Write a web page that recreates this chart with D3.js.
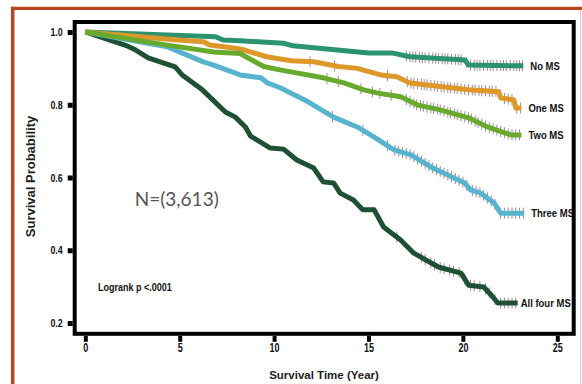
<!DOCTYPE html>
<html><head><meta charset="utf-8">
<script src="https://cdn.jsdelivr.net/npm/d3@7"></script>
<style>body{margin:0;background:#fff} svg{display:block}</style>
</head><body>
<svg id="c" width="582" height="384"></svg>
<script>
// ---------- data ----------
const seriesNames = ["No MS", "One MS", "Two MS", "Three MS", "All four MS"];
const noMS_t   = [0, 6.9, 7.3, 8.2, 10.5, 11.0, 15.0, 16.3, 17.2, 20.1, 20.3, 23.2];
const noMS_s   = [1.0, 0.987, 0.978, 0.976, 0.969, 0.962, 0.942, 0.942, 0.932, 0.923, 0.909, 0.907];
const oneMS_t  = [0, 4.9, 6.25, 6.6, 7.85, 8.4, 9.6, 10.9, 12.1, 13.4, 14.4, 15.65, 16.5, 17.2, 18.8, 20.3, 21.9, 22.0, 22.7, 22.8, 23.1];
const oneMS_s  = [1.0, 0.978, 0.973, 0.964, 0.956, 0.951, 0.932, 0.921, 0.918, 0.905, 0.900, 0.882, 0.877, 0.860, 0.850, 0.841, 0.836, 0.819, 0.813, 0.791, 0.791];
const twoMS_t  = [0, 4.35, 6.8, 8.2, 9.45, 10.3, 12.6, 13.7, 14.75, 15.5, 16.7, 17.6, 18.8, 20.3, 21.3, 22.55, 23.1];
const twoMS_s  = [1.0, 0.964, 0.945, 0.941, 0.905, 0.896, 0.874, 0.860, 0.841, 0.832, 0.822, 0.799, 0.786, 0.764, 0.739, 0.717, 0.717];
const threeMS_t = [0, 4.35, 6.25, 6.8, 8.2, 9.3, 9.65, 10.35, 11.8, 13.15, 14.4, 15.3, 16.35, 17.25, 18.3, 19.2, 20.1, 20.4, 20.95, 21.65, 22.0, 23.25];
const threeMS_s = [1.0, 0.959, 0.918, 0.909, 0.882, 0.874, 0.860, 0.846, 0.808, 0.766, 0.739, 0.711, 0.676, 0.662, 0.629, 0.607, 0.585, 0.566, 0.557, 0.530, 0.502, 0.502];
const fourMS_t = [0, 2.1, 2.65, 3.33, 4.76, 5.13, 6.2, 7.42, 7.95, 8.48, 8.75, 9.8, 10.5, 11.2, 12.1, 12.6, 13.15, 13.5, 14.2, 14.7, 15.3, 15.8, 16.7, 17.4, 18.7, 19.9, 20.3, 21.1, 21.5, 21.85, 22.9];
const fourMS_s = [1.0, 0.964, 0.951, 0.929, 0.904, 0.882, 0.841, 0.780, 0.766, 0.739, 0.714, 0.681, 0.678, 0.648, 0.626, 0.588, 0.585, 0.557, 0.538, 0.511, 0.511, 0.464, 0.428, 0.392, 0.354, 0.337, 0.304, 0.299, 0.277, 0.255, 0.255];

// censoring times (tick marks)
const noMS_c = [17.0,17.2,17.35,17.5,17.7,17.85,18.0,18.2,18.4,18.55,18.7,18.9,19.05,19.2,19.4,19.6,19.75,19.9,20.2,20.4,20.6,20.75,20.9,21.1,21.3,21.45,21.6,21.8,22.0,22.15,22.3,22.5,22.7,22.85,23.0,23.15];
const oneMS_c = [11.9,13.2,16.0,17.05,17.25,17.4,17.6,17.8,17.95,18.1,18.3,18.5,18.65,18.85,19.0,19.2,19.35,19.55,19.7,19.9,20.1,20.3,20.5,20.65,20.85,21.0,21.2,21.4,21.55,21.75,21.95,22.2,22.4,22.6,22.85,23.05];
const twoMS_c = [12.8,13.4,14.6,15.2,15.6,16.2,17.0,17.2,17.4,17.55,17.75,17.9,18.1,18.3,18.45,18.65,18.8,19.0,19.2,19.35,19.55,19.7,19.9,20.1,20.3,20.45,20.65,20.8,21.0,21.2,21.4,21.6,21.8,22.0,22.2,22.4,22.6,22.8,23.0];
const threeMS_c = [13.1,14.7,16.0,16.4,16.6,16.8,17.0,17.2,17.4,17.6,17.8,18.0,18.2,18.4,18.6,18.8,19.0,19.2,19.4,19.6,19.8,20.0,20.2,20.5,20.7,20.9,21.1,21.3,21.5,21.7,22.0,22.2,22.4,22.6,22.8,23.0,23.2];
const fourMS_c = [16.5,17.8,18.0,18.3,18.5,18.8,19.0,19.3,19.5,19.8,20.1,20.4,20.6,20.9,21.2,21.4,21.7,22.0,22.2,22.4,22.6,22.8];

const xTicks = [0, 5, 10, 15, 20, 25];
const yTicks = [0.2, 0.4, 0.6, 0.8, 1.0];
const colors = ["#2b946e", "#de982a", "#68aa2e", "#58b4ce", "#1e5034"];

// ---------- build ----------
const allT = [noMS_t, oneMS_t, twoMS_t, threeMS_t, fourMS_t];
const allS = [noMS_s, oneMS_s, twoMS_s, threeMS_s, fourMS_s];
const allC = [noMS_c, oneMS_c, twoMS_c, threeMS_c, fourMS_c];
const series = seriesNames.map((n, i) => ({
  name: n, color: colors[i],
  pts: allT[i].map((t, j) => ({t, s: allS[i][j]})),
  cens: allC[i]
}));

const svg = d3.select("#c");
svg.append("rect").attr("width", 582).attr("height", 384).attr("fill", "#fff");

const x = d3.scaleLinear().domain([0, 25]).range([85.3, 557.3]);
const y = d3.scaleLinear().domain([0.2, 1.0]).range([323, 32]);

const SANS = "'Liberation Sans',Arial,sans-serif";

// outer page border
svg.append("line").attr("x1", 11).attr("x2", 582).attr("y1", 8.3).attr("y2", 8.3)
  .attr("stroke", "#b5461f").attr("stroke-width", 3.3);
svg.append("line").attr("x1", 12.7).attr("x2", 12.7).attr("y1", 6.7).attr("y2", 384)
  .attr("stroke", "#b5461f").attr("stroke-width", 3.5);
svg.append("line").attr("x1", 580.5).attr("x2", 580.5).attr("y1", 10).attr("y2", 384)
  .attr("stroke", "#cfcfcf").attr("stroke-width", 1);

function valAt(pts, t) {
  for (let i = 1; i < pts.length; i++) {
    if (t <= pts[i].t) {
      const a = pts[i-1], b = pts[i];
      const f = (t - a.t) / (b.t - a.t);
      return a.s + f * (b.s - a.s);
    }
  }
  return pts[pts.length-1].s;
}

const line = d3.line().x(d => x(d.t)).y(d => y(d.s));
const drawOrder = [0, 1, 4, 3, 2];

// censor ticks (behind lines)
const cg = svg.append("g");
series.forEach(sr => {
  cg.selectAll(null).data(sr.cens).join("line")
    .attr("x1", d => x(d)).attr("x2", d => x(d))
    .attr("y1", d => y(valAt(sr.pts, d)) - 5.5)
    .attr("y2", d => y(valAt(sr.pts, d)) + 5.5)
    .attr("stroke", "#7a6570").attr("stroke-width", 1).attr("opacity", 0.75);
});

drawOrder.forEach(i => {
  const sr = series[i];
  svg.append("path").datum(sr.pts).attr("d", line)
    .attr("fill", "none").attr("stroke", sr.color)
    .attr("stroke-width", 5).attr("stroke-linejoin", "round");
});

// end labels (condensed bold)
series.forEach(sr => {
  const last = sr.pts[sr.pts.length-1];
  const lx = x(last.t) + (sr.name === "All four MS" ? 3 : 7);
  svg.append("text").text(sr.name)
    .attr("transform", `translate(${lx},${y(last.s) + 3.8}) scale(0.88,1)`)
    .attr("font-family", SANS)
    .attr("font-weight", "bold").attr("font-size", 10.8).attr("fill", "#111");
});

// frame
svg.append("rect").attr("x", 74.7).attr("y", 22).attr("width", 499).attr("height", 311.8)
  .attr("fill", "none").attr("stroke", "#000").attr("stroke-width", 4);

// y axis
const ya = svg.append("g").attr("transform", "translate(72.7,0)")
  .call(d3.axisLeft(y).tickValues(yTicks).tickSize(5).tickPadding(5).tickFormat(d3.format(".1f")));
ya.select(".domain").remove();
ya.selectAll(".tick line").attr("stroke", "#000").attr("stroke-width", 5);
ya.selectAll(".tick text").attr("font-family", SANS).attr("font-weight", "bold")
  .attr("font-size", 11).attr("fill", "#111")
  .attr("transform", "scale(0.8,1)").attr("x", -10 / 0.8);

// x axis
const xa = svg.append("g").attr("transform", "translate(0,335.8)")
  .call(d3.axisBottom(x).tickValues(xTicks).tickSize(6).tickPadding(2).tickFormat(d3.format("d")));
xa.select(".domain").remove();
xa.selectAll(".tick line").attr("stroke", "#000").attr("stroke-width", 4);
xa.selectAll(".tick text").attr("font-family", SANS).attr("font-weight", "bold")
  .attr("font-size", 12).attr("fill", "#111")
  .attr("transform", "scale(0.75,1)");

// titles
svg.append("text").text("Survival Time (Year)")
  .attr("x", 324).attr("y", 379).attr("text-anchor", "middle")
  .attr("font-family", SANS).attr("font-weight", "bold")
  .attr("font-size", 11.5).attr("fill", "#222");
svg.append("text").text("Survival Probability")
  .attr("transform", "translate(34.5,176.5) rotate(-90)").attr("text-anchor", "middle")
  .attr("font-family", SANS).attr("font-weight", "bold")
  .attr("font-size", 13).attr("fill", "#222");

// annotations
svg.append("text").text("N=(3,613)")
  .attr("x", 176.7).attr("y", 206).attr("text-anchor", "middle")
  .attr("font-family", "Lato,'Open Sans',sans-serif").attr("font-size", 19).attr("fill", "#555");
svg.append("text").text("Logrank p <.0001")
  .attr("transform", "translate(98,291) scale(0.9,1)")
  .attr("font-family", SANS).attr("font-weight", "bold")
  .attr("font-size", 10).attr("fill", "#111");
</script>
</body></html>
